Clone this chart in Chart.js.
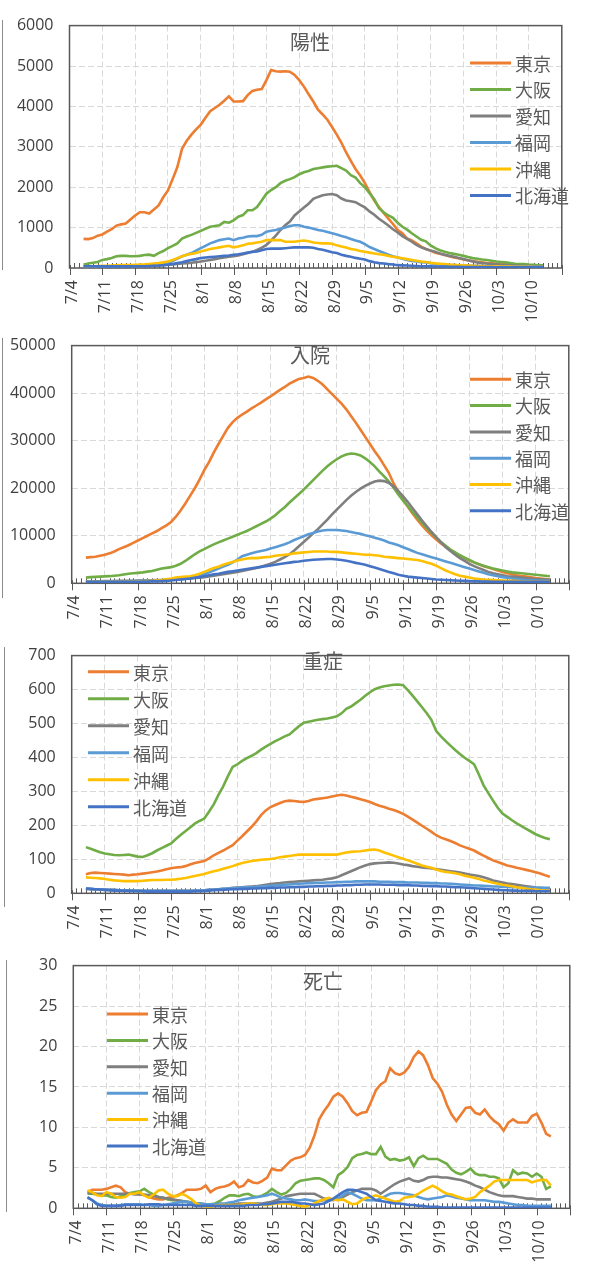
<!DOCTYPE html>
<html>
<head>
<meta charset="utf-8">
<script src="https://cdn.jsdelivr.net/npm/chart.js@4.4.0/dist/chart.umd.min.js"></script>
<style>
  html, body { margin: 0; padding: 0; background: #fff; width: 593px; height: 1267px; overflow: hidden; }
  canvas { position: absolute; left: 0; }
  .edge { position: absolute; width: 0; border-left: 1.5px solid #8c8c8c; }
</style>
</head>
<body>
<div class="edge" style="left:2px;top:20px;height:250px"></div>
<div class="edge" style="left:2px;top:338px;height:260px"></div>
<div class="edge" style="left:4px;top:647px;height:260px"></div>
<div class="edge" style="left:6px;top:960px;height:252px"></div>

<canvas id="positiveChart" width="593" height="330" style="top:0px"></canvas>
<canvas id="hospitalChart" width="600" height="310" style="top:320px"></canvas>
<canvas id="severeChart" width="600" height="310" style="top:630px"></canvas>
<canvas id="deathChart" width="601" height="327" style="top:940px"></canvas>

<script>
// prefectures and Excel-like colours
const prefs = ['東京', '大阪', '愛知', '福岡', '沖縄', '北海道'];
const colors = ['#ED7D31', '#70AD47', '#7F7F7F', '#5B9BD5', '#FFC000', '#4472C4'];

// x axis: day 0 = 7/4, one tick label per week
const weekLabels = ['7/4', '7/11', '7/18', '7/25', '8/1', '8/8', '8/15', '8/22', '8/29',
                    '9/5', '9/12', '9/19', '9/26', '10/3', '10/10', ''];
const firstDay = 3; // first value is 7/7, last is 10/13

// 陽性 (7-day avg positives)
const positiveTokyo = [720,715,740,800,830,900,960, 1050,1080,1100,1200,1300,1380,1380,
  1350,1450,1550,1750,1920,2200,2500, 2950,3150,3300,3430,3550,3720,3880,
  3960,4040,4140,4250,4120,4120,4130, 4280,4380,4410,4430,4650,4900,4870,
  4860,4870,4860,4780,4650,4490,4300, 4120,3920,3800,3670,3490,3300,3100,
  2860,2650,2450,2290,2100,1880,1670, 1510,1360,1220,1090,940,860,730,
  680,610,530,470,430,380,350, 320,290,260,240,210,190,170,
  155,140,125,115,105,98,90, 82,75,68,64,58,55,50, 48];
const positiveOsaka = [80,110,130,150,200,220,250, 290,300,300,290,290,300,320,
  330,300,370,420,490,550,610, 730,780,820,870,920,970,1020,
  1040,1060,1140,1120,1180,1270,1310, 1430,1430,1510,1670,1840,1930,2000,
  2100,2160,2200,2250,2320,2370,2400, 2450,2470,2490,2510,2520,2530,2470,
  2410,2300,2240,2100,2000,1850,1700, 1480,1380,1300,1240,1120,1020,950,
  860,780,700,660,560,490,440, 400,370,350,330,300,270,245,
  230,210,200,180,160,150,140, 120,105,100,95,85,80,70, 65];
const positiveAichi = [20,20,20,25,25,30,30, 30,35,35,40,40,45,50,
  55,60,65,70,80,90,100, 110,120,130,145,160,180,200,
  220,240,260,280,290,310,340, 370,400,450,500,570,680,800,
  940,1060,1150,1300,1400,1500,1590, 1710,1760,1800,1820,1830,1800,1720,
  1670,1650,1630,1560,1500,1400,1320, 1220,1140,1050,960,880,790,720,
  650,570,510,470,430,400,360, 330,300,280,250,220,190,160,
  140,120,110,100,90,80,75, 68,60,55,50,48,45,42, 40];
const positiveFukuoka = [30,30,30,30,35,35,40, 40,45,50,50,55,60,65,
  70,80,90,100,120,170,230, 290,330,370,430,490,550,610,
  650,690,710,730,690,730,750, 780,790,790,820,900,920,940,
  970,1000,1040,1060,1060,1020,1000, 970,940,920,890,860,830,790,
  760,720,680,650,590,520,470, 420,380,330,290,260,230,200,
  175,160,145,135,120,100,85, 80,75,70,65,60,57,55,
  52,50,47,45,42,40,38, 36,35,34,33,32,31,30, 30];
const positiveOkinawa = [40,40,45,50,55,55,60, 65,70,70,75,80,85,90,
  100,110,120,140,160,200,245, 290,330,350,370,410,440,470,
  490,510,530,550,510,530,560, 600,610,630,650,690,690,690,
  690,650,650,650,670,680,660, 630,620,610,610,600,560,530,
  510,470,450,420,400,380,360, 340,330,300,280,260,240,220,
  200,180,160,150,130,115,105, 95,85,78,70,65,60,55,
  50,48,45,42,40,38,35, 33,30,30,28,27,26,25, 25];
const positiveHokkaido = [40,40,40,40,40,40,40, 40,40,40,40,45,45,45,
  50,55,60,70,80,100,120, 140,170,200,220,245,260,270,
  280,290,300,310,330,340,360, 380,400,410,440,470,480,480,
  480,490,500,510,510,510,510, 500,470,450,420,390,370,330,
  300,280,250,230,210,170,140, 120,110,95,85,70,65,60,
  55,50,45,42,40,38,36, 34,32,30,28,26,25,24,
  23,22,22,21,20,20,20, 20,20,19,19,18,18,18, 18];

// 入院 (in hospital)
const hospitalTokyo = [5400,5500,5600,5800,6000,6300,6700, 7200,7600,8000,8500,9000,9500,10000,
  10500,11000,11600,12200,12900,14000,15300, 16800,18400,20000,21800,23800,25500,27500,
  29300,31000,32700,33900,34800,35500,36100, 36800,37400,38000,38700,39300,40000,40700,
  41300,42000,42500,43000,43200,43500,43200, 42600,41800,40800,39800,38800,37800,36600,
  35200,33800,32300,30800,29300,27800,26400, 24800,23200,21000,19300,17600,16100,14700,
  13400,12200,11100,10100,9200,8400,7700, 7000,6400,5800,5300,4800,4400,4000,
  3600,3300,3000,2700,2400,2100,1900, 1700,1550,1400,1250,1100,1000,900, 800];
const hospitalOsaka = [1200,1300,1350,1400,1450,1500,1600, 1700,1850,2000,2100,2200,2300,2450,
  2600,2850,3100,3250,3400,3700,4100, 4700,5400,6100,6700,7200,7700,8200,
  8600,9000,9400,9800,10200,10600,11000, 11500,12000,12500,13000,13600,14300,15200,
  16000,17000,17900,18800,19700,20700,21700, 22700,23700,24600,25400,26100,26700,27100,
  27300,27200,26900,26300,25500,24600,23500, 22500,21400,20100,18700,17400,16200,15000,
  13800,12700,11600,10600,9600,8700,7900, 7100,6500,5900,5400,4900,4400,4000,
  3700,3400,3100,2900,2700,2500,2300, 2200,2100,2000,1900,1800,1700,1600, 1500];
const hospitalAichi = [400,400,400,420,450,450,480, 500,500,520,550,580,600,620,
  650,680,700,750,800,850,900, 950,1000,1100,1200,1300,1450,1600,
  1750,1900,2050,2200,2400,2600,2800, 3000,3200,3500,3800,4100,4500,5000,
  5500,6100,6900,7800,8700,9600,10500, 11400,12400,13400,14500,15500,16500,17500,
  18400,19200,19900,20500,21000,21400,21600, 21500,21100,20400,19400,18300,17100,15800,
  14500,13200,12000,10800,9700,8600,7600, 6800,6000,5300,4700,4100,3600,3200,
  2800,2400,2100,1900,1700,1500,1400, 1300,1200,1100,1000,900,850,800, 700];
const hospitalFukuoka = [400,400,400,400,400,400,400, 400,400,400,450,450,500,500,
  550,600,650,700,750,800,850, 900,1000,1200,1500,1900,2300,2700,
  3100,3500,3900,4400,5000,5700,6000, 6300,6600,6800,7000,7300,7600,7900,
  8200,8600,9100,9500,9900,10300,10600, 10900,11100,11200,11200,11200,11100,11000,
  10800,10600,10400,10100,9900,9600,9300, 9000,8600,8300,8000,7600,7200,6800,
  6400,6100,5800,5500,5200,4900,4600, 4300,4000,3700,3400,3100,2800,2500,
  2200,1900,1700,1500,1300,1150,1000, 900,800,700,650,600,550,500, 500];
const hospitalOkinawa = [300,300,300,300,300,300,300, 300,300,300,300,350,400,450,
  500,600,700,850,1000,1200,1300, 1400,1500,1700,2000,2400,2800,3200,
  3500,3900,4200,4500,4800,5000,5200, 5300,5300,5400,5500,5600,5800,5900,
  6000,6100,6300,6400,6500,6600,6700, 6700,6700,6700,6600,6600,6500,6400,
  6300,6200,6100,6000,6000,5900,5800, 5600,5500,5400,5300,5200,5100,5000,
  4900,4700,4400,4100,3700,3200,2700, 2300,1900,1600,1400,1200,1000,900,
  800,750,700,650,600,550,500, 450,400,380,350,330,300,300, 300];
const hospitalHokkaido = [300,300,300,300,300,300,300, 300,300,300,300,300,350,350,
  400,400,450,500,600,700,800, 900,1000,1150,1300,1500,1700,1900,
  2000,2200,2400,2550,2700,2850,3000, 3150,3300,3450,3600,3750,3900,4050,
  4200,4350,4500,4600,4750,4850,4950, 5000,5050,5100,5100,5000,4900,4750,
  4550,4300,4100,3900,3600,3300,3000, 2700,2400,2100,1800,1600,1400,1300,
  1200,1100,1000,900,800,750,700, 650,600,550,500,450,400,400,
  350,350,300,300,300,300,300, 300,300,300,300,300,300,300, 300];

// 重症 (severe)
const severeTokyo = [56,60,61,60,59,58,57, 56,55,53,55,56,58,60,
  62,64,67,71,74,76,77, 80,85,89,92,95,103,112,
  119,126,134,142,155,168,182, 196,212,230,244,254,260,266,
  271,273,272,270,269,272,276, 278,280,282,285,288,290,288,
  284,281,277,273,269,263,258, 254,249,245,240,234,226,217,
  208,199,190,181,171,164,159, 154,148,141,136,131,126,118,
  111,104,97,92,87,82,79, 75,72,69,66,62,58,53, 49];
const severeOsaka = [136,131,126,121,117,115,113, 112,113,114,111,108,107,112,
  118,126,133,140,147,160,172, 183,194,205,213,220,240,262,
  290,315,345,372,380,390,398, 405,413,423,432,440,448,455,
  462,468,480,492,502,505,508, 511,513,515,518,521,530,543,
  550,560,570,582,592,601,606, 610,612,614,615,613,598,582,
  565,548,530,510,478,462,448, 435,422,410,399,390,380,350,
  318,295,273,252,235,225,215, 206,198,190,182,174,168,163, 159];
const severeAichi = [12,12,11,11,10,10,10, 9,9,9,8,8,8,7,
  7,7,7,7,7,7,7, 7,7,8,8,9,10,11,
  12,13,14,16,17,18,19, 20,21,23,25,27,29,30,
  32,33,34,35,36,37,38, 39,40,42,44,47,53,59,
  65,71,77,82,86,88,89, 90,91,90,88,85,83,80,
  78,76,75,73,71,69,67, 65,63,61,58,55,53,51,
  47,43,38,35,32,29,27, 25,23,21,19,17,16,15, 14];
const severeFukuoka = [14,13,12,12,11,10,10, 9,9,8,8,8,7,7,
  7,7,7,7,7,7,7, 7,7,8,8,9,10,11,
  12,13,14,15,16,17,18, 18,19,20,21,22,23,24,
  25,26,27,28,29,30,30, 31,31,32,32,33,33,34,
  34,35,35,35,35,35,34, 34,34,33,33,33,32,32,
  32,31,31,30,30,29,29, 28,27,26,25,24,23,23,
  22,21,20,20,19,19,18, 18,17,17,17,16,16,16, 16];
const severeOkinawa = [47,46,45,44,42,40,38, 37,36,36,36,36,37,38,
  39,39,39,40,40,41,43, 45,48,51,54,57,61,65,
  68,72,76,80,85,89,92, 95,97,99,100,101,103,106,
  108,110,112,114,114,114,114, 114,114,114,114,114,117,120,
  122,123,124,126,128,129,126, 120,116,111,106,102,97,92,
  87,82,78,75,70,66,63, 61,59,56,52,49,46,42,
  38,35,31,28,25,23,21, 18,16,14,12,11,9,8, 7];
const severeHokkaido = [14,13,12,11,10,9,8, 8,7,7,6,6,6,5,
  5,5,5,5,5,5,5, 5,5,6,6,7,8,9,
  10,10,11,12,12,13,13, 14,14,15,15,16,16,17,
  17,18,18,19,19,20,20, 21,21,22,22,23,23,24,
  24,25,25,26,26,26,26, 25,25,25,24,24,24,23,
  23,22,22,21,21,20,20, 19,18,18,17,16,15,14,
  13,12,11,10,9,9,8, 8,7,7,7,6,6,6, 6];

// 死亡 (deaths)
const deathTokyo = [2.0,2.3,2.3,2.3,2.4,2.6,2.8, 2.6,2.0,1.8,1.8,1.8,1.6,1.4,
  1.2,1.1,1.1,1.3,1.4,1.6,1.9, 2.3,2.3,2.3,2.4,2.8,2.0,2.4,
  2.6,2.7,2.9,3.3,2.6,2.8,3.5, 3.2,3.1,3.4,3.8,4.9,4.7,4.7,
  5.3,5.9,6.2,6.3,6.6,7.5,9.0, 11.0,12.0,12.8,13.8,14.2,13.8,13.0,
  12.0,11.5,11.8,11.9,13.2,14.6,15.3, 15.7,17.3,16.7,16.5,16.8,17.5,18.7,
  19.4,18.9,17.7,16.1,15.4,14.4,12.8, 11.6,10.8,11.6,12.4,12.5,11.8,11.6,
  12.2,11.4,10.8,10.4,9.6,10.6,11.0, 10.6,10.6,10.6,11.4,11.7,10.6,9.2, 8.9];
const deathOsaka = [1.8,1.8,1.7,1.6,1.6,1.4,1.3, 1.5,1.7,1.9,2.0,2.1,2.4,2.0,
  1.7,1.4,1.3,1.1,1.0,1.0,0.9, 0.8,0.7,0.6,0.6,0.5,0.5,0.6,
  0.9,1.3,1.6,1.6,1.5,1.7,1.8, 1.5,1.4,1.6,1.9,2.4,2.0,1.7,
  1.9,2.4,3.1,3.4,3.5,3.6,3.7, 3.7,3.5,3.1,2.6,4.1,4.5,5.1,
  6.2,6.6,6.7,6.9,6.7,6.7,7.6, 6.4,6.0,6.1,5.9,6.0,6.3,5.2,
  6.2,6.5,6.1,6.1,6.1,5.8,5.5, 4.8,4.4,4.2,4.5,4.9,4.3,4.1,
  4.1,3.9,3.9,3.7,2.6,3.1,4.7, 4.2,4.4,4.3,3.9,4.3,3.9,2.4, 2.7];
const deathAichi = [2.0,1.9,1.8,1.8,1.8,1.8,1.8, 1.8,1.8,1.8,1.7,1.7,1.7,1.6,
  1.5,1.4,1.3,1.2,1.1,1.0,0.9, 0.8,0.7,0.6,0.5,0.5,0.5,0.5,
  0.5,0.5,0.5,0.5,0.6,0.6,0.6, 0.6,0.6,0.6,0.7,0.8,1.0,1.2,
  1.5,1.6,1.7,1.8,1.8,1.8,1.8, 1.5,1.2,1.1,1.0,1.2,1.4,1.7,
  2.0,2.2,2.4,2.4,2.4,2.2,1.8, 2.2,2.6,3.0,3.3,3.5,3.7,3.4,
  3.3,3.5,3.8,3.9,3.9,3.8,3.8, 3.7,3.6,3.5,3.3,3.1,2.8,2.6,
  2.3,2.0,1.8,1.6,1.5,1.5,1.5, 1.4,1.3,1.2,1.2,1.1,1.1,1.1, 1.1];
const deathFukuoka = [1.3,1.0,0.6,0.4,0.3,0.3,0.3, 0.4,0.5,0.5,0.5,0.5,0.4,0.4,
  0.3,0.3,0.4,0.5,0.6,0.7,0.8, 0.8,0.7,0.6,0.6,0.5,0.5,0.5,
  0.6,0.6,0.7,0.8,1.0,1.1,1.2, 1.3,1.4,1.5,1.6,1.8,1.6,1.3,
  1.2,1.1,1.0,1.0,1.1,1.0,0.9, 0.9,1.0,1.0,1.1,1.2,1.6,2.0,
  1.8,1.5,1.2,1.0,1.0,1.0,1.2, 1.5,1.8,1.9,1.9,1.8,1.7,1.6,
  1.4,1.2,1.1,1.2,1.3,1.4,1.6, 1.5,1.3,1.2,1.1,1.0,1.0,1.0,
  1.0,0.9,0.8,0.8,0.7,0.6,0.5, 0.4,0.4,0.3,0.3,0.3,0.3,0.3, 0.3];
const deathOkinawa = [2.2,2.0,1.6,1.5,2.0,1.8,1.4, 1.3,1.4,1.8,1.8,2.0,1.6,1.3,
  1.7,2.2,2.3,1.8,1.5,1.5,1.8, 1.5,1.1,0.6,0.3,0.2,0.2,0.3,
  0.4,0.4,0.4,0.4,0.4,0.5,0.6, 0.6,0.5,0.4,0.4,0.5,0.6,0.6,
  0.6,0.5,0.4,0.3,0.2,0.4,0.6, 0.9,1.1,1.3,1.1,1.0,1.1,0.8,
  0.5,0.6,1.0,1.3,1.4,1.6,1.4, 1.2,1.0,0.8,0.9,1.3,1.4,1.5,
  1.8,2.2,2.5,2.8,2.5,2.1,1.8, 1.7,1.5,1.3,1.1,1.2,1.4,2.0,
  2.4,2.8,3.3,3.5,3.5,3.5,3.5, 3.5,3.5,3.5,3.2,3.4,3.5,3.5, 2.8];
const deathHokkaido = [1.4,1.0,0.5,0.3,0.3,0.3,0.3, 0.3,0.4,0.4,0.4,0.4,0.4,0.5,
  0.5,0.5,0.4,0.4,0.4,0.4,0.4, 0.4,0.4,0.3,0.3,0.3,0.3,0.3,
  0.3,0.3,0.3,0.3,0.3,0.3,0.4, 0.4,0.4,0.5,0.5,0.6,0.7,0.8,
  0.8,0.8,0.7,0.6,0.6,0.5,0.4, 0.5,0.6,0.9,1.2,1.6,2.0,2.3,
  2.3,2.2,2.0,1.8,1.4,1.0,0.9, 0.8,0.7,0.6,0.6,0.5,0.4,0.4,
  0.3,0.3,0.2,0.2,0.2,0.1,0.1, 0.1,0.1,0.1,0.1,0.1,0.1,0.1,
  0.1,0.1,0.1,0.1,0.1,0.1,0.1, 0.1,0.1,0.1,0.1,0.1,0.1,0.1, 0.1];

// per-canvas settings, looked up by the plugin
const panels = {};

// frame, tick marks, in-plot title and legend
const decorPlugin = {
  id: 'decor',
  beforeDatasetsDraw(chart) {
    const { ctx, chartArea: a, scales: { x } } = chart;
    ctx.save();
    ctx.strokeStyle = '#595959';
    ctx.lineWidth = 1;
    for (let d = 0; d <= 105; d++) {
      const px = Math.round(x.getPixelForValue(d)) + 0.5;
      ctx.beginPath();
      if (d % 7 === 0) { ctx.moveTo(px, a.bottom - 3); ctx.lineTo(px, a.bottom + 7); }
      else { ctx.moveTo(px, a.bottom - 5); ctx.lineTo(px, a.bottom); }
      ctx.stroke();
    }
    ctx.lineWidth = 1.5;
    ctx.strokeRect(a.left, a.top, a.right - a.left, a.bottom - a.top);
    ctx.restore();
  },
  afterDraw(chart) {
    const cfg = panels[chart.canvas.id];
    if (!cfg) return;
    const { ctx } = chart;
    ctx.save();
    ctx.fillStyle = '#595959';
    ctx.textBaseline = 'middle';
    ctx.textAlign = 'left';
    ctx.font = '20px "Noto Sans CJK JP"';
    ctx.fillText(cfg.title, cfg.titleX, cfg.titleY);
    ctx.font = '18px "Noto Sans CJK JP"';
    chart.data.datasets.forEach((ds, i) => {
      const y = cfg.legY + i * cfg.legStep;
      ctx.strokeStyle = ds.borderColor;
      ctx.lineWidth = 3;
      ctx.beginPath();
      ctx.moveTo(cfg.legX, y);
      ctx.lineTo(cfg.legX + 41, y);
      ctx.stroke();
      ctx.fillText(ds.label, cfg.legX + 45, y + 1);
    });
    ctx.restore();
  }
};

const tickFont = { family: '"Open Sans"', size: 16 };

function makeChart(id, cfg) {
  panels[id] = cfg;
  const ctx = document.getElementById(id).getContext('2d');
  return new Chart(ctx, {
    type: 'line',
    data: {
      datasets: cfg.series.map((vals, i) => ({
        label: prefs[i],
        data: vals.map((v, k) => ({ x: firstDay + k, y: v })),
        borderColor: colors[i],
        borderWidth: 2.6,
        pointRadius: 0,
        tension: 0,
        fill: false,
        order: 6 - i
      }))
    },
    options: {
      responsive: false,
      animation: false,
      layout: { padding: { top: cfg.top, right: cfg.right, left: 0, bottom: 0 } },
      plugins: { legend: { display: false }, tooltip: { enabled: false } },
      scales: {
        x: {
          type: 'linear', min: 0, max: 105,
          afterFit: s => { s.height = cfg.xh; },
          ticks: {
            stepSize: 7, autoSkip: false, minRotation: 90, maxRotation: 90, padding: 12,
            labelOffset: 3, color: '#404040', font: tickFont,
            callback: v => weekLabels[v / 7]
          },
          grid: { color: '#d9d9d9', lineWidth: 1, drawTicks: false },
          border: { display: false, dash: [6, 3] }
        },
        y: {
          min: 0, max: cfg.max,
          afterFit: s => { s.width = cfg.left; },
          ticks: { stepSize: cfg.step, padding: 16, color: '#404040', font: tickFont,
                   callback: v => String(v) },
          grid: { color: '#d9d9d9', lineWidth: 1, drawTicks: false },
          border: { display: false, dash: [6, 3] }
        }
      }
    },
    plugins: [decorPlugin]
  });
}

makeChart('positiveChart', {
  series: [positiveTokyo, positiveOsaka, positiveAichi, positiveFukuoka, positiveOkinawa, positiveHokkaido],
  max: 6000, step: 1000, top: 23, right: 1.3, left: 69.5, xh: 62,
  title: '陽性', titleX: 290, titleY: 42, legX: 470, legY: 63, legStep: 26.5
});
makeChart('hospitalChart', {
  series: [hospitalTokyo, hospitalOsaka, hospitalAichi, hospitalFukuoka, hospitalOkinawa, hospitalHokkaido],
  max: 50000, step: 10000, top: 18.3, right: 5.4, left: 71.7, xh: 46.7,
  title: '入院', titleX: 290, titleY: 35, legX: 470, legY: 59.3, legStep: 26.3
});
makeChart('severeChart', {
  series: [severeTokyo, severeOsaka, severeAichi, severeFukuoka, severeOkinawa, severeHokkaido],
  max: 700, step: 100, top: 14, right: 1.2, left: 71.7, xh: 46.7,
  title: '重症', titleX: 303, titleY: 31.7, legX: 88, legY: 41.7, legStep: 27
});
makeChart('deathChart', {
  series: [deathTokyo, deathOsaka, deathAichi, deathFukuoka, deathOkinawa, deathHokkaido],
  max: 30, step: 5, top: 22.7, right: 1, left: 73.3, xh: 58.7,
  title: '死亡', titleX: 303, titleY: 41.7, legX: 107, legY: 74, legStep: 26.4
});
</script>
</body>
</html>
